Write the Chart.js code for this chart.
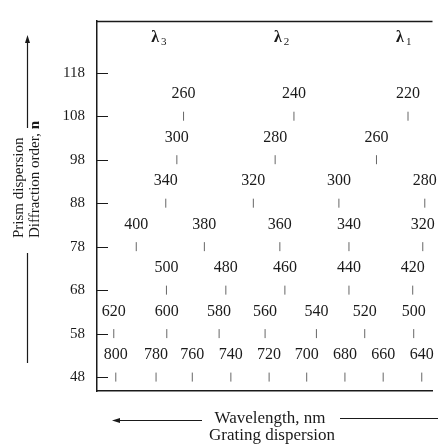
<!DOCTYPE html>
<html>
<head>
<meta charset="utf-8">
<script src="https://cdn.jsdelivr.net/npm/chart.js@4"></script>
<style>
  html, body { margin: 0; padding: 0; background: #fff; }
  #wrap { width: 438px; height: 448px; }
</style>
</head>
<body>
<div id="wrap"><canvas id="chart" width="438" height="448"></canvas></div>
<script>
// Ordens de difração (eixo y) e marcas do eixo
const orders = [108, 98, 88, 78, 68, 58, 48];
const orderTicks = [48, 58, 68, 78, 88, 98, 108, 118];

// Comprimentos de onda (nm) em cada ordem
const wavelengths = [
  [260, 240, 220],
  [300, 280, 260],
  [340, 320, 300, 280],
  [400, 380, 360, 340, 320],
  [500, 480, 460, 440, 420],
  [620, 600, 580, 560, 540, 520, 500],
  [800, 780, 760, 740, 720, 700, 680, 660, 640]
];

// Posição horizontal (dispersão da rede, 0-100)
const positions = [
  [25.8, 58.7, 92.7],
  [23.8, 53.1, 83.3],
  [20.5, 46.6, 72.1, 97.7],
  [11.7, 32.0, 54.5, 75.1, 97.1],
  [20.7, 38.4, 56.0, 75.1, 94.1],
  [5.0, 20.8, 36.4, 50.1, 65.4, 79.8, 94.4],
  [5.6, 17.6, 28.4, 39.9, 51.3, 62.5, 73.9, 85.3, 96.8]
];

// Cabeçalhos das colunas λ
const columnNames = ['3', '2', '1'];
const columnPos = [18.5, 55.1, 91.5];

const SERIF = '"Liberation Serif", "Times New Roman", serif';
const INK = '#1a1a1a';

const datasets = orders.map((n, i) => ({
  label: 'n = ' + n,
  data: positions[i].map(x => ({ x, y: n })),
  wl: wavelengths[i],
  pointStyle: 'line',
  rotation: 90,
  radius: 4.5,
  hoverRadius: 4.5,
  borderWidth: 1,
  borderColor: '#666',
  showLine: false
}));

function arrowHead(ctx, x, y, dir) {
  // dir: 'up' ou 'left'
  ctx.beginPath();
  if (dir === 'up') {
    ctx.moveTo(x, y);
    ctx.lineTo(x - 2.5, y + 8);
    ctx.lineTo(x + 2.5, y + 8);
  } else {
    ctx.moveTo(x, y);
    ctx.lineTo(x + 8, y - 2.5);
    ctx.lineTo(x + 8, y + 2.5);
  }
  ctx.closePath();
  ctx.fill();
}

const decor = {
  id: 'decor',
  afterDatasetsDraw(chart) {
    const { ctx, chartArea, scales } = chart;
    ctx.save();
    ctx.fillStyle = INK;
    ctx.strokeStyle = INK;

    // borda superior
    ctx.lineWidth = 1.3;
    ctx.beginPath();
    ctx.moveTo(chartArea.left, chartArea.top + 0.5);
    ctx.lineTo(chartArea.right, chartArea.top + 0.5);
    ctx.stroke();

    // marcas do eixo y voltadas para dentro
    ctx.lineWidth = 1.2;
    ctx.beginPath();
    orderTicks.forEach(v => {
      const y = Math.round(scales.y.getPixelForValue(v)) + 0.5;
      ctx.moveTo(chartArea.left, y);
      ctx.lineTo(chartArea.left + 11, y);
    });
    ctx.stroke();

    // rótulos de comprimento de onda acima de cada marca
    ctx.font = '16px ' + SERIF;
    ctx.textAlign = 'center';
    ctx.textBaseline = 'middle';
    chart.data.datasets.forEach((ds, i) => {
      const meta = chart.getDatasetMeta(i);
      meta.data.forEach((pt, j) => {
        ctx.fillText(String(ds.wl[j]), pt.x, pt.y - 22);
      });
    });

    // cabeçalhos λ1, λ2, λ3
    columnNames.forEach((s, i) => {
      const x = scales.x.getPixelForValue(columnPos[i]);
      const y = chartArea.top + 17;
      ctx.font = 'bold 16px ' + SERIF;
      ctx.textAlign = 'right';
      ctx.fillText('λ', x, y);
      ctx.font = '11px ' + SERIF;
      ctx.textAlign = 'left';
      ctx.fillText(s, x + 2, y + 4);
    });

    // título do eixo y (girado)
    ctx.save();
    ctx.translate(19, 238);
    ctx.rotate(-Math.PI / 2);
    ctx.textAlign = 'left';
    ctx.font = '15px ' + SERIF;
    ctx.fillText('Prism dispersion', 0, 0);
    const t = 'Diffraction order, ';
    ctx.fillText(t, 0, 16);
    const w = ctx.measureText(t).width;
    ctx.font = 'bold 15px ' + SERIF;
    ctx.fillText('n', w, 16);
    ctx.restore();

    // seta vertical
    ctx.lineWidth = 1.2;
    ctx.beginPath();
    ctx.moveTo(27.5, 128);
    ctx.lineTo(27.5, 42);
    ctx.moveTo(27.5, 253);
    ctx.lineTo(27.5, 363);
    ctx.stroke();
    arrowHead(ctx, 27.5, 35, 'up');

    // títulos inferiores
    ctx.font = '17px ' + SERIF;
    ctx.textAlign = 'center';
    ctx.fillText('Wavelength, nm', 270, 419);
    ctx.fillText('Grating dispersion', 272, 436);

    // seta horizontal
    ctx.beginPath();
    ctx.moveTo(202, 420.5);
    ctx.lineTo(118, 420.5);
    ctx.moveTo(340, 418.5);
    ctx.lineTo(438, 418.5);
    ctx.stroke();
    arrowHead(ctx, 112, 420.5, 'left');

    ctx.restore();
  }
};

new Chart(document.getElementById('chart'), {
  type: 'scatter',
  data: { datasets },
  options: {
    responsive: false,
    animation: false,
    layout: { padding: { top: 8, left: 0, right: 0, bottom: 0 } },
    plugins: {
      legend: { display: false },
      tooltip: { enabled: false }
    },
    scales: {
      x: {
        type: 'linear',
        min: 0,
        max: 100,
        afterFit: s => { s.height = 57; },
        ticks: { display: false },
        grid: { drawOnChartArea: false, drawTicks: false },
        border: { display: true, color: INK, width: 1.5 }
      },
      y: {
        type: 'linear',
        min: 44.8,
        max: 129.9,
        afterFit: s => { s.width = 97; },
        afterBuildTicks: s => { s.ticks = orderTicks.map(v => ({ value: v })); },
        ticks: {
          color: INK,
          font: { family: SERIF, size: 15 },
          padding: 12
        },
        grid: { drawOnChartArea: false, drawTicks: false },
        border: { display: true, color: INK, width: 1.5 }
      }
    }
  },
  plugins: [decor]
});
</script>
</body>
</html>
